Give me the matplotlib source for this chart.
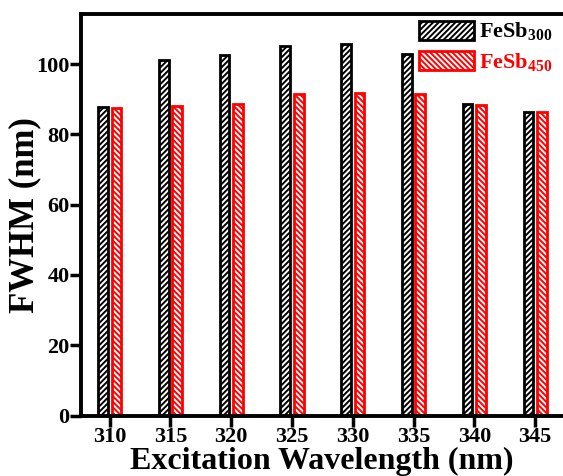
import matplotlib
matplotlib.use('Agg')
import matplotlib.pyplot as plt
import numpy as np

plt.rcParams['font.family'] = ['Liberation Serif', 'DejaVu Serif']
plt.rcParams['font.weight'] = 'bold'
plt.rcParams['mathtext.fontset'] = 'custom'
plt.rcParams['mathtext.rm'] = 'Liberation Serif:bold'
plt.rcParams['mathtext.bf'] = 'Liberation Serif:bold'
plt.rcParams['hatch.linewidth'] = 1.4

wavelength = [310, 315, 320, 325, 330, 335, 340, 345]
fesb300 = [87.8, 101.1, 102.6, 105.3, 105.7, 102.8, 88.8, 86.5]
fesb450 = [87.6, 88.0, 88.8, 91.6, 91.8, 91.6, 88.4, 86.5]

fig = plt.figure(figsize=(5.63, 4.76), dpi=100)
ax = fig.add_axes([0.143, 0.127, 0.857, 0.843])

x = np.array(wavelength, dtype=float)
w = 0.8
ax.bar(x - 0.55, fesb300, w, color='white', edgecolor='black', hatch='//////',
       linewidth=2, label='FeSb$_{300}$')
ax.bar(x + 0.55, fesb450, w, color='white', edgecolor='red', hatch='\\\\\\\\\\\\',
       linewidth=2, label='FeSb$_{450}$')

ax.set_xlim(307.6, 347.3)
ax.set_ylim(0, 114.2)
ax.set_xticks(wavelength)
ax.set_yticks([0, 20, 40, 60, 80, 100])

for s in ['left', 'top', 'bottom']:
    ax.spines[s].set_linewidth(2.8)
ax.spines['right'].set_visible(False)
ax.tick_params(direction='out', length=8, width=2.5, labelsize=16, pad=0)

ax.set_xlabel('Excitation Wavelength (nm)', fontsize=23, fontweight='bold', labelpad=0)
ax.set_ylabel('FWHM (nm)', fontsize=25, fontweight='bold')
ax.yaxis.set_label_coords(-0.082, 0.5)

leg = ax.legend(loc='upper right', bbox_to_anchor=(1.0, 1.012), frameon=False, fontsize=16,
                handlelength=2.5, handleheight=0.95, handletextpad=0.2, borderaxespad=0.1,
                labelspacing=0.35)
leg.get_texts()[1].set_color('red')

fig.savefig('out.png', dpi=100)
